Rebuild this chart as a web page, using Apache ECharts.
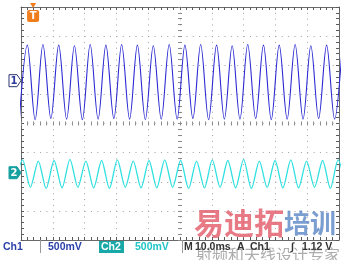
<!DOCTYPE html>
<html><head><meta charset="utf-8">
<script src="https://cdn.jsdelivr.net/npm/echarts@6/dist/echarts.min.js"></script>
<style>html,body{margin:0;padding:0;background:#fff}#c{width:348px;height:260px}</style>
</head><body><div id="c"></div>
<script>
const timeDivMs = 10;            // M 10.0ms
const ch1VoltsPerDiv = 0.5;      // Ch1 500mV
const ch2VoltsPerDiv = 0.5;      // Ch2 500mV
const ch1ZeroDiv = 1.47;         // ch1 ground marker, divisions above centre
const ch2ZeroDiv = -1.69;        // ch2 ground marker, divisions above centre
const triggerTimeMs = 3.8;
const triggerLevelText = '1.12 V';

// Ch1 extremes (ms, V): trough/peak alternating
const ch1Time = [-0.5,1.98,4.45,6.9,9.4,11.86,14.35,16.8,19.3,21.75,24.25,26.7,29.2,31.65,34.15,36.6,39.1,41.6,44.1,46.6,49.1,51.55,54.05,56.5,59.0,61.5,63.95,66.4,68.85,71.3,73.8,76.25,78.7,81.2,83.7,86.2,88.7,91.15,93.6,96.1,98.6,101.05];
const ch1Volt = [-0.66,0.61,-0.67,0.62,-0.65,0.61,-0.66,0.60,-0.67,0.62,-0.66,0.61,-0.65,0.62,-0.66,0.61,-0.67,0.60,-0.66,0.62,-0.66,0.61,-0.65,0.62,-0.67,0.61,-0.66,0.60,-0.66,0.62,-0.65,0.61,-0.67,0.61,-0.66,0.62,-0.66,0.60,-0.65,0.61,-0.66,0.61];

// Ch2 extremes (ms, V)
const ch2Time = [-2.0,0.5,2.95,5.45,7.9,10.4,12.9,15.4,17.9,20.4,22.85,25.35,27.8,30.3,32.8,35.3,37.75,40.25,42.7,45.2,47.7,50.2,52.7,55.2,57.7,60.15,62.6,65.05,67.5,70.0,72.45,74.95,77.4,79.9,82.35,84.85,87.3,89.8,92.3,94.85,97.3,99.7,102.2];
const ch2Volt = [-0.26,0.22,-0.25,0.20,-0.27,0.21,-0.26,0.23,-0.25,0.20,-0.26,0.21,-0.27,0.22,-0.25,0.20,-0.26,0.21,-0.26,0.22,-0.25,0.21,-0.27,0.20,-0.26,0.22,-0.25,0.21,-0.26,0.23,-0.27,0.20,-0.25,0.21,-0.26,0.22,-0.26,0.20,-0.25,0.21,-0.27,0.22,-0.26];

const statusTexts = ['Ch1','500mV','Ch2','500mV','M','10.0ms','A','Ch1','\u222B'];

const pairs = (t, v) => t.slice(0, Math.min(t.length, v.length)).map((x, i) => [x, v[i]]);

const chart = echarts.init(document.getElementById('c'), null, {renderer: 'canvas'});
const tickCol = '#5a5a5a', borderCol = '#6a6a6a', gridCol = '#a0a0a0', ctrCol = '#8a8a8a';
const noLbl = {show: false};
function xAx(o) {
  return Object.assign({type: 'value', min: 0, max: 10 * timeDivMs, interval: timeDivMs / 5,
    axisLabel: noLbl, splitLine: {show: false}, axisLine: {show: false},
    axisTick: {show: true, inside: true, length: 3, lineStyle: {color: tickCol}}}, o);
}
function yAx(o) {
  return Object.assign({type: 'value', min: -4, max: 4, interval: 0.2,
    axisLabel: noLbl, splitLine: {show: false}, axisLine: {show: false},
    axisTick: {show: true, inside: true, length: 3, lineStyle: {color: tickCol}}}, o);
}

chart.setOption({
  animation: false,
  backgroundColor: '#ffffff',
  grid: {left: 21, top: 7, width: 318, height: 233, show: false},
  xAxis: [
    xAx({position: 'bottom', interval: timeDivMs, axisTick: {show: false},
      axisLine: {show: true, onZero: false, lineStyle: {color: borderCol}},
      splitLine: {show: true, lineStyle: {color: gridCol, type: [1, 4.82]}}}),
    xAx({position: 'bottom', axisLine: {show: false, onZero: false}}),
    xAx({position: 'top', axisLine: {show: true, onZero: false, lineStyle: {color: borderCol}}}),
    xAx({position: 'bottom', offset: -116.5, axisLine: {show: false, onZero: false}, axisTick: {show: true, inside: true, length: 2, lineStyle: {color: ctrCol}}}),
    xAx({position: 'bottom', offset: -116.5, axisLine: {show: false, onZero: false}, axisTick: {show: true, inside: false, length: 2, lineStyle: {color: ctrCol}}})
  ],
  yAxis: [
    yAx({position: 'left', interval: 1, axisTick: {show: false},
      axisLine: {show: true, onZero: false, lineStyle: {color: borderCol}},
      splitLine: {show: true, lineStyle: {color: gridCol, type: [1, 5.36]}}}),
    yAx({position: 'left', axisLine: {show: false, onZero: false}}),
    yAx({position: 'right', axisLine: {show: true, onZero: false, lineStyle: {color: borderCol}}}),
    yAx({position: 'left', offset: -159, axisLine: {show: false, onZero: false}, axisTick: {show: true, inside: true, length: 2, lineStyle: {color: ctrCol}}}),
    yAx({position: 'left', offset: -159, axisLine: {show: false, onZero: false}, axisTick: {show: true, inside: false, length: 2, lineStyle: {color: ctrCol}}}),
    {type: 'value', show: false, min: (-4 - ch1ZeroDiv) * ch1VoltsPerDiv, max: (4 - ch1ZeroDiv) * ch1VoltsPerDiv},
    {type: 'value', show: false, min: (-4 - ch2ZeroDiv) * ch2VoltsPerDiv, max: (4 - ch2ZeroDiv) * ch2VoltsPerDiv}
  ],
  series: [
    {type: 'line', name: 'Ch1', xAxisIndex: 0, yAxisIndex: 5, data: pairs(ch1Time, ch1Volt),
      smooth: 0.34, showSymbol: false, clip: true, lineStyle: {color: '#2a2ad2', width: 1.1}},
    {type: 'line', name: 'Ch2', xAxisIndex: 0, yAxisIndex: 6, data: pairs(ch2Time, ch2Volt),
      smooth: 0.28, showSymbol: false, clip: true, lineStyle: {color: '#2fe0e0', width: 1.3}}
  ]
});

const y1 = chart.convertToPixel({yAxisIndex: 5}, 0);
const y2 = chart.convertToPixel({yAxisIndex: 6}, 0);
const xT = chart.convertToPixel({xAxisIndex: 0}, triggerTimeMs);
const sf = 'bold 10.5px "Liberation Sans", Arial, sans-serif';
const sy = 247;
function marker(y, label, fill, stroke, txt) {
  return [
    {type: 'polygon', shape: {points: [[9, y - 6], [17, y - 6], [21, y], [17, y + 6], [9, y + 6]]},
      style: {fill: fill, stroke: stroke, lineWidth: 1}, z: 10},
    {type: 'text', style: {x: 14, y: y + 0.5, text: label, fill: txt, font: 'bold 10px "DejaVu Sans", sans-serif', textAlign: 'center', textVerticalAlign: 'middle'}, z: 11}
  ];
}
const T = (x, text, fill, extra) => ({type: 'text', style: Object.assign({x: x, y: sy, text: text, fill: fill, font: sf, textVerticalAlign: 'middle'}, extra || {}), z: 12});
chart.setOption({graphic: [].concat(
  marker(y1, '1', '#ffffff', '#2c3470', '#2c3a9a'),
  marker(y2, '2', '#16a0a0', '#16a0a0', '#ffffff'),
  [
    {type: 'polygon', shape: {points: [[xT - 3, 3], [xT + 3, 3], [xT, 8]]}, style: {fill: '#f07d1c'}, z: 10},
    {type: 'rect', shape: {x: xT - 6, y: 10, width: 12, height: 12, r: 2}, style: {fill: '#f07d1c'}, z: 10},
    {type: 'text', style: {x: xT, y: 16.5, text: 'T', fill: '#fff', font: 'bold 10px "DejaVu Sans", sans-serif', textAlign: 'center', textVerticalAlign: 'middle'}, z: 11},
    T(3, statusTexts[0], '#2a3fa8'),
    {type: 'line', shape: {x1: 40.5, y1: 240, x2: 40.5, y2: 253}, style: {stroke: '#999'}, z: 12},
    T(48, statusTexts[1], '#2a3fa8'),
    {type: 'rect', shape: {x: 99, y: 241, width: 25, height: 12}, style: {fill: '#18a8a8'}, z: 11},
    T(101, statusTexts[2], '#ffffff'),
    T(135, statusTexts[3], '#20c4c4'),
    {type: 'line', shape: {x1: 182.5, y1: 240, x2: 182.5, y2: 253}, style: {stroke: '#999'}, z: 12},
    T(184, statusTexts[4], '#333'),
    T(195, statusTexts[5], '#333'),
    T(237, statusTexts[6], '#333'),
    T(250, statusTexts[7], '#333'),
    T(291, statusTexts[8], '#333'),
    T(302, triggerLevelText, '#333'),
    {type: 'text', style: {x: 194, y: 223, text: '易迪拓', fill: 'rgba(226,84,100,0.78)', font: 'bold 30px "Noto Sans CJK SC"', textVerticalAlign: 'middle'}, z: 20},
    {type: 'text', style: {x: 284, y: 223, text: '培训', fill: 'rgba(72,120,190,0.72)', font: 'bold 26px "Noto Sans CJK SC"', textVerticalAlign: 'middle'}, z: 20},
    {type: 'text', style: {x: 196, y: 255, text: '射频和天线设计专家', fill: 'rgba(90,90,90,0.5)', font: '16px "Noto Sans CJK SC"', textVerticalAlign: 'middle'}, z: 20}
  ]
)});
</script></body></html>
